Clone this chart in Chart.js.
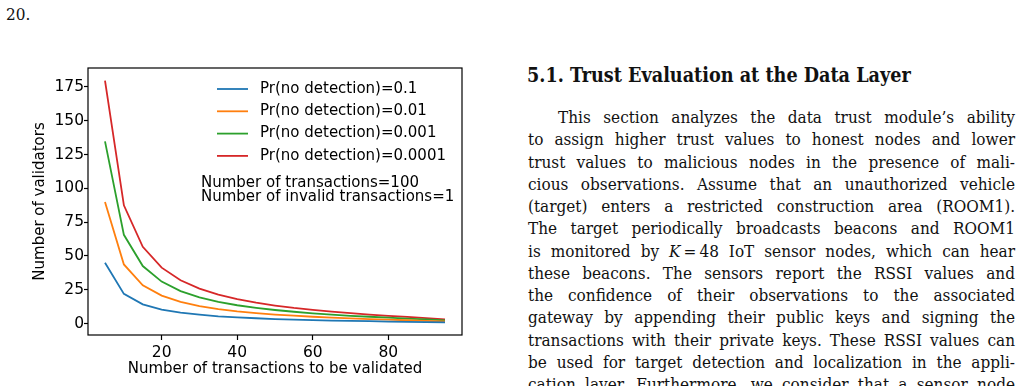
<!DOCTYPE html>
<html>
<head>
<meta charset="utf-8">
<script src="https://cdn.jsdelivr.net/npm/chart.js@4/dist/chart.umd.min.js"></script>
<style>
  body { margin: 0; width: 1021px; height: 386px; background: #fff; overflow: hidden; position: relative; }
  #chartBox { position: absolute; left: 0; top: 40px; width: 480px; height: 346px; }
  .serif { font-family: "DejaVu Serif Condensed", "DejaVu Serif", serif; color: #111; }
  #pageNum { position: absolute; left: 6px; top: 2px; font-size: 17px; line-height: 24px; }
  #heading { position: absolute; left: 527px; top: 63px; font-size: 18px; font-weight: bold; line-height: 26px; white-space: nowrap; }
  #body { position: absolute; left: 528px; top: 106px; width: 487px; font-size: 17px; line-height: 22.25px; }
  #body div { text-align: justify; text-align-last: justify; white-space: nowrap; height: 22.25px; }
  #body div.first { padding-left: 30px; }
</style>
</head>
<body>
<div id="pageNum" class="serif">20.</div>
<div id="chartBox"><canvas id="chart" width="480" height="346"></canvas></div>
<div id="heading" class="serif">5.1. Trust Evaluation at the Data Layer</div>
<div id="body" class="serif"></div>

<script>
// ===============================
// DATA
// ===============================
const txValidated = [5, 10, 15, 20, 25, 30, 35, 40, 45, 50, 55, 60, 65, 70, 75, 80, 85, 90, 95];

const valP1 = [44.9, 21.9, 14.2, 10.3, 8.0, 6.5, 5.3, 4.5, 3.9, 3.3, 2.9, 2.5, 2.2, 1.9, 1.7, 1.4, 1.2, 1.0, 0.8];
const valP2 = [89.8, 43.7, 28.3, 20.6, 16.0, 12.9, 10.7, 9.0, 7.7, 6.6, 5.8, 5.0, 4.4, 3.8, 3.3, 2.9, 2.4, 2.0, 1.5];
const valP3 = [134.7, 65.6, 42.5, 31.0, 24.0, 19.4, 16.0, 13.5, 11.6, 10.0, 8.7, 7.5, 6.6, 5.7, 5.0, 4.3, 3.6, 3.0, 2.3];
const valP4 = [179.6, 87.4, 56.7, 41.3, 32.0, 25.8, 21.4, 18.0, 15.4, 13.3, 11.5, 10.1, 8.8, 7.7, 6.6, 5.7, 4.9, 4.0, 3.1];

const seriesLabels = [
  'Pr(no detection)=0.1',
  'Pr(no detection)=0.01',
  'Pr(no detection)=0.001',
  'Pr(no detection)=0.0001'
];
const seriesColors = ['#1f77b4', '#ff7f0e', '#2ca02c', '#d62728'];

const xTicks = [20, 40, 60, 80];
const yTicks = [0, 25, 50, 75, 100, 125, 150, 175];

const noteLines = ['Number of transactions=100', 'Number of invalid transactions=1'];

const bodyLines = [
  "This section analyzes the data trust module\u2019s ability",
  "to assign higher trust values to honest nodes and lower",
  "trust values to malicious nodes in the presence of mali-",
  "cious observations. Assume that an unauthorized vehicle",
  "(target) enters a restricted construction area (ROOM1).",
  "The target periodically broadcasts beacons and ROOM1",
  "is monitored by <i>K</i>\u2009=\u200948 IoT sensor nodes, which can hear",
  "these beacons. The sensors report the RSSI values and",
  "the confidence of their observations to the associated",
  "gateway by appending their public keys and signing the",
  "transactions with their private keys. These RSSI values can",
  "be used for target detection and localization in the appli-",
  "cation layer. Furthermore, we consider that a sensor node"
];

// ===============================
// TEXT
// ===============================
const bodyEl = document.getElementById('body');
bodyLines.forEach((line, i) => {
  const d = document.createElement('div');
  if (i === 0) d.className = 'first';
  d.innerHTML = line;
  bodyEl.appendChild(d);
});

// stretch the heading to the width it has in the page
const heading = document.getElementById('heading');
const hw = heading.getBoundingClientRect().width;
heading.style.fontSize = (18 * 384 / hw).toFixed(2) + 'px';

// ===============================
// CHART
// ===============================
const FONT = 'DejaVu Sans';

const frameAndLegend = {
  id: 'frameAndLegend',
  afterDraw(chart) {
    const ctx = chart.ctx;
    const a = chart.chartArea;
    ctx.save();
    ctx.strokeStyle = '#000';
    ctx.lineWidth = 1.2;
    ctx.strokeRect(a.left, a.top, a.right - a.left, a.bottom - a.top);

    // legend, matplotlib style
    ctx.font = '15px "' + FONT + '"';
    ctx.textBaseline = 'middle';
    ctx.fillStyle = '#000';
    chart.data.datasets.forEach((ds, i) => {
      const y = 49 + i * 22.3;
      ctx.strokeStyle = ds.borderColor;
      ctx.lineWidth = 1.8;
      ctx.beginPath();
      ctx.moveTo(217, y);
      ctx.lineTo(248, y);
      ctx.stroke();
      ctx.fillText(ds.label, 260, y);
    });

    noteLines.forEach((t, i) => {
      ctx.fillText(t, 201, 143 + i * 14);
    });
    ctx.restore();
  }
};

const datasets = [valP1, valP2, valP3, valP4].map((vals, i) => ({
  label: seriesLabels[i],
  data: txValidated.map((x, j) => ({ x: x, y: vals[j] })),
  borderColor: seriesColors[i],
  backgroundColor: seriesColors[i],
  borderWidth: 1.8,
  pointRadius: 0,
  tension: 0,
  fill: false
}));

new Chart(document.getElementById('chart').getContext('2d'), {
  type: 'line',
  data: { datasets: datasets },
  options: {
    responsive: false,
    animation: false,
    devicePixelRatio: 1,
    layout: { padding: { top: 28, right: 18, left: 0, bottom: 0 } },
    plugins: {
      legend: { display: false },
      tooltip: { enabled: false }
    },
    scales: {
      x: {
        type: 'linear',
        min: 0.5,
        max: 99.5,
        afterBuildTicks: (s) => { s.ticks = xTicks.map(v => ({ value: v })); },
        afterFit: (s) => { s.height = 51; },
        grid: { display: true, drawOnChartArea: false, drawTicks: true, tickLength: 5, tickColor: '#000', tickWidth: 1.2 },
        border: { display: false },
        ticks: { color: '#000', font: { family: FONT, size: 15.5 }, padding: 4, maxRotation: 0 },
        title: {
          display: true,
          text: 'Number of transactions to be validated',
          color: '#000',
          font: { family: FONT, size: 15 },
          padding: { top: 0, bottom: 8 }
        }
      },
      y: {
        min: -8.5,
        max: 189,
        afterBuildTicks: (s) => { s.ticks = yTicks.map(v => ({ value: v })); },
        afterFit: (s) => { s.width = 88; },
        grid: { display: true, drawOnChartArea: false, drawTicks: true, tickLength: 4, tickColor: '#000', tickWidth: 1.2 },
        border: { display: false },
        ticks: { color: '#000', font: { family: FONT, size: 15.5 }, padding: 0 },
        title: {
          display: true,
          text: 'Number of validators',
          color: '#000',
          font: { family: FONT, size: 15 },
          padding: { top: 31, bottom: 0 }
        }
      }
    }
  },
  plugins: [frameAndLegend]
});
</script>
</body>
</html>
